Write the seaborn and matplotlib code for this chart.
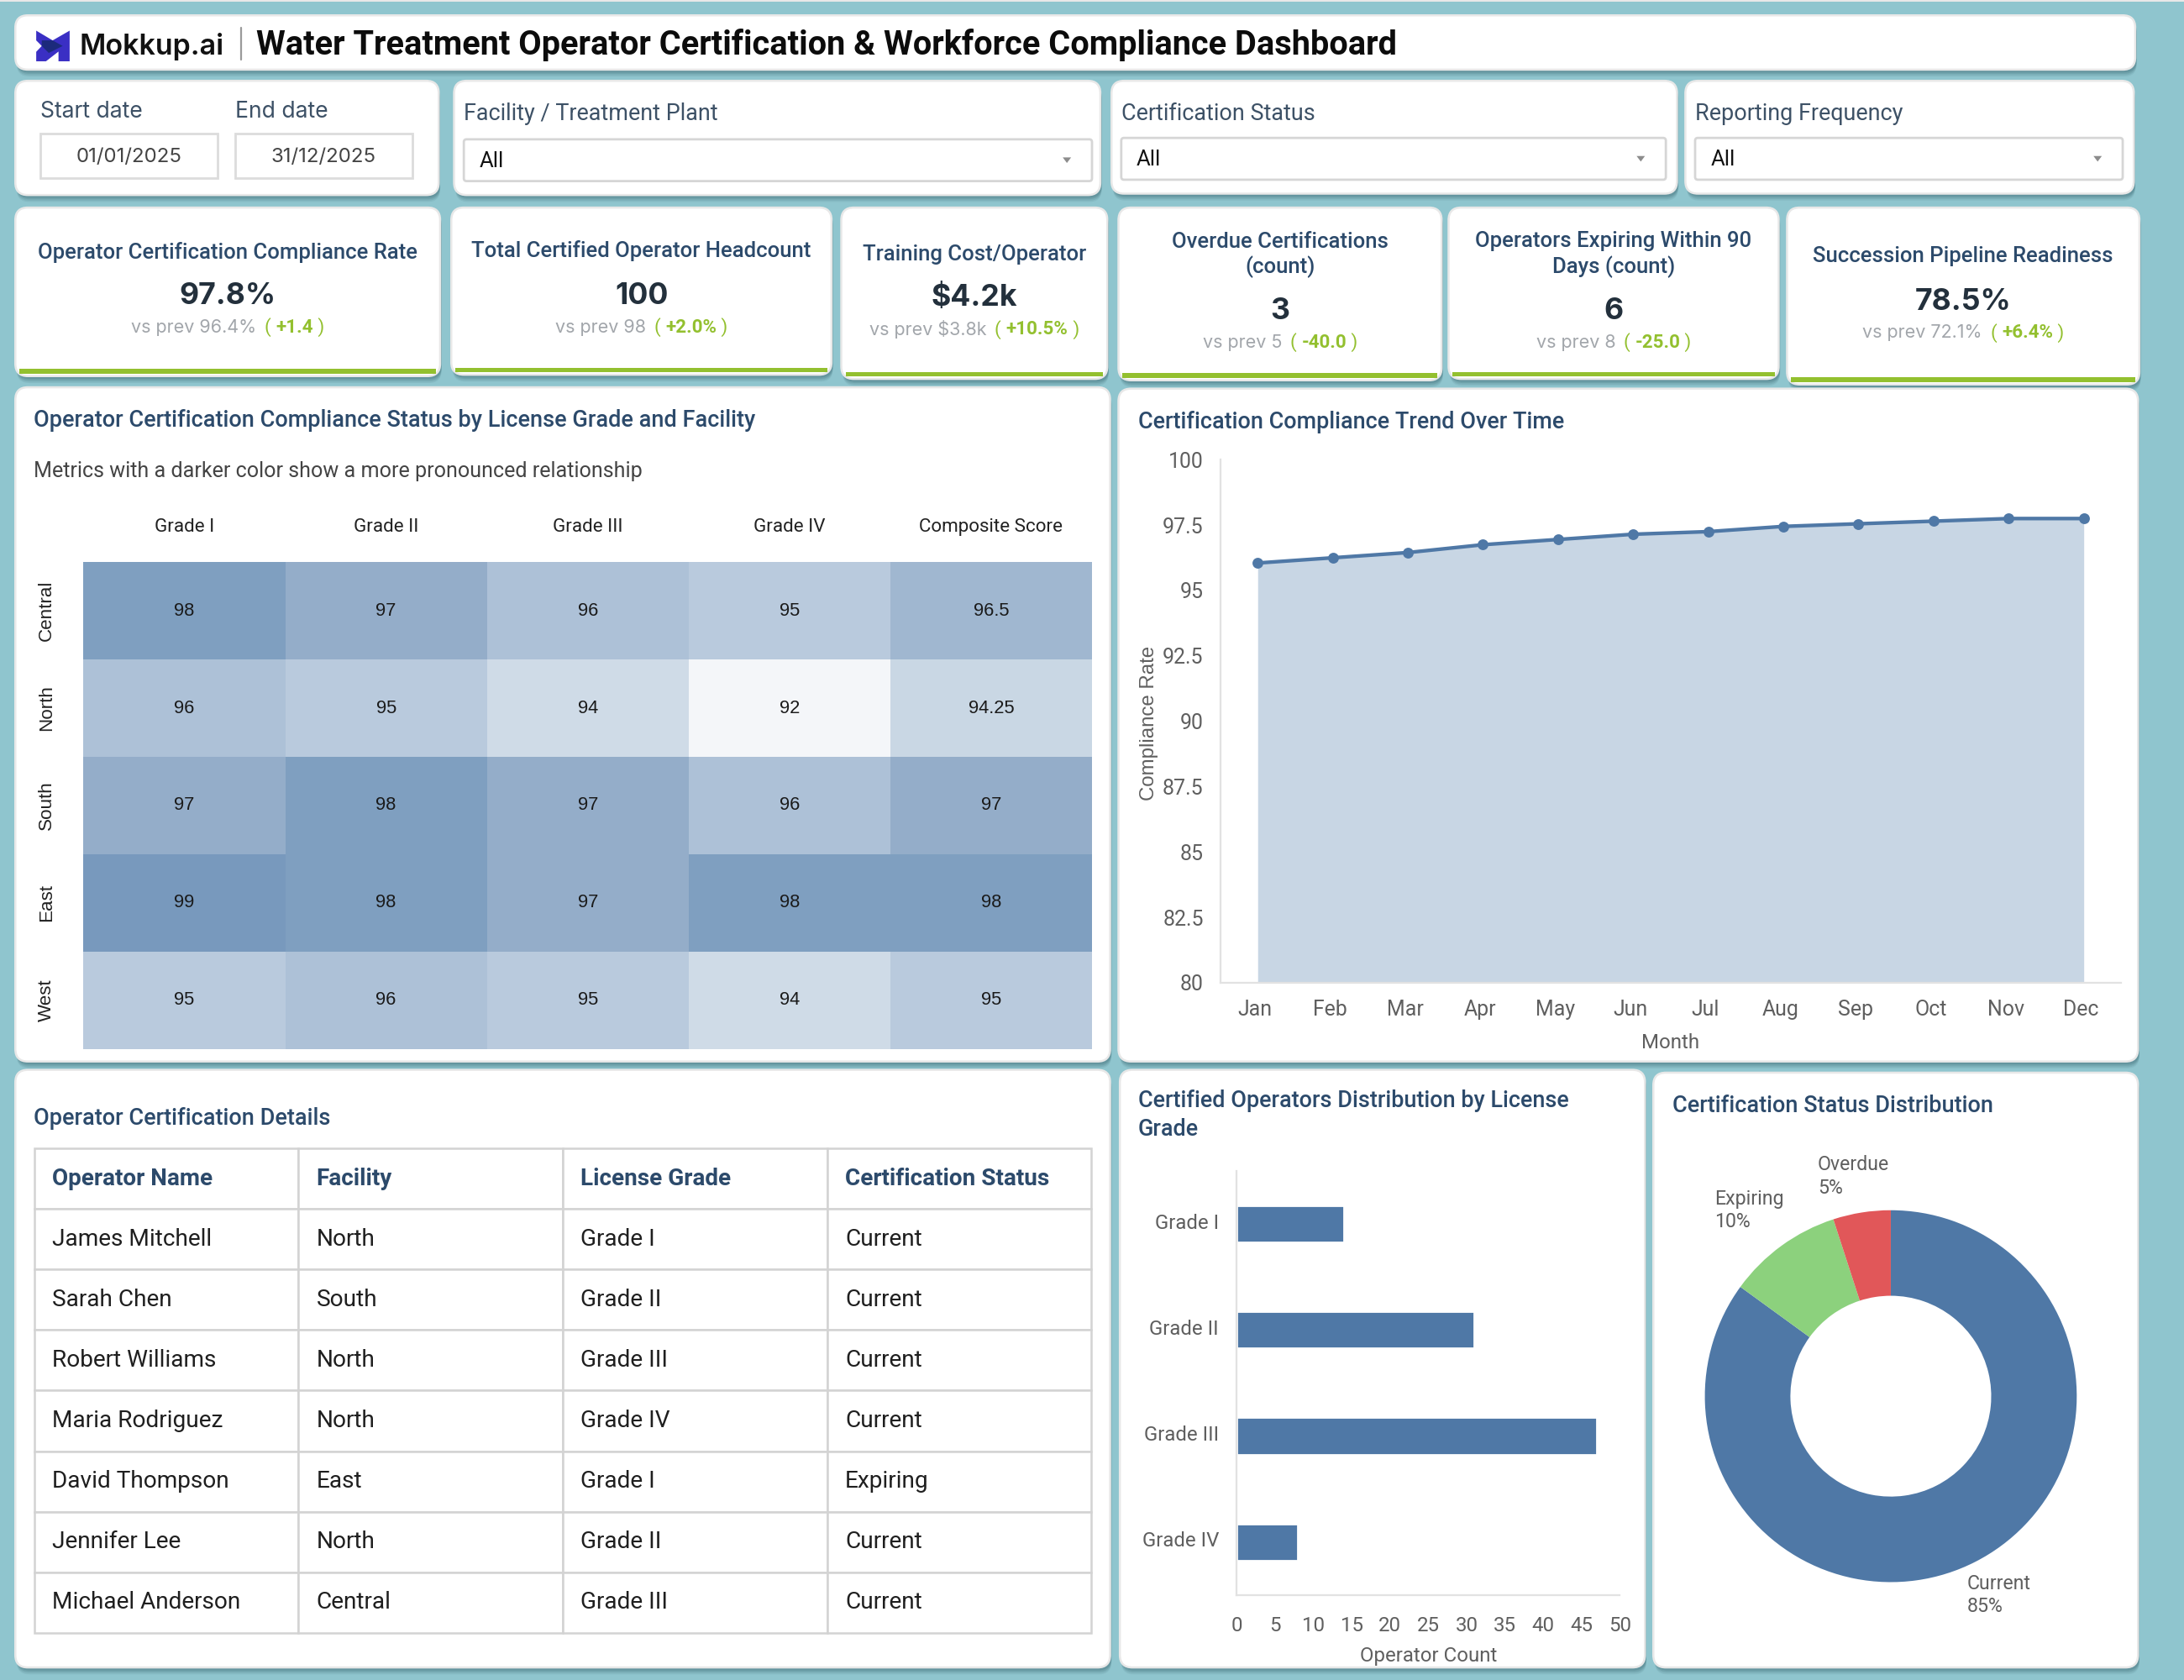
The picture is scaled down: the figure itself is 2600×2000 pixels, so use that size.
import matplotlib
matplotlib.use("Agg")
import matplotlib.pyplot as plt
from matplotlib.patches import FancyBboxPatch, Rectangle, Polygon
from matplotlib.colors import LinearSegmentedColormap
from matplotlib.transforms import ScaledTranslation
import numpy as np
import pandas as pd
import seaborn as sns

# ---- data ----
grades = ["Grade I", "Grade II", "Grade III", "Grade IV"]
heat_cols = ["Grade I", "Grade II", "Grade III", "Grade IV", "Composite Score"]
regions = ["Central", "North", "South", "East", "West"]
heat_central = [98, 97, 96, 95, 96.5]
heat_north = [96, 95, 94, 92, 94.25]
heat_south = [97, 98, 97, 96, 97]
heat_east = [99, 98, 97, 98, 98]
heat_west = [95, 96, 95, 94, 95]
heat_labels = [["98","97","96","95","96.5"],["96","95","94","92","94.25"],["97","98","97","96","97"],
               ["99","98","97","98","98"],["95","96","95","94","95"]]
months = ["Jan","Feb","Mar","Apr","May","Jun","Jul","Aug","Sep","Oct","Nov","Dec"]
trend = [96.05, 96.25, 96.45, 96.75, 96.95, 97.15, 97.25, 97.45, 97.55, 97.65, 97.75, 97.75]
trend_ticks = [80, 82.5, 85, 87.5, 90, 92.5, 95, 97.5, 100]
trend_tick_labels = ["80", "82.5", "85", "87.5", "90", "92.5", "95", "97.5", "100"]
grade_counts = [14, 31, 47, 8]
status_names = ["Current", "Expiring", "Overdue"]
status_values = [85, 10, 5]
table_cols = ["Operator Name", "Facility", "License Grade", "Certification Status"]
operators = ["James Mitchell","Sarah Chen","Robert Williams","Maria Rodriguez","David Thompson","Jennifer Lee","Michael Anderson"]
facilities = ["North","South","North","North","East","North","Central"]
op_grades = ["Grade I","Grade II","Grade III","Grade IV","Grade I","Grade II","Grade III"]
op_status = ["Current","Current","Current","Current","Expiring","Current","Current"]
kpi_titles = ["Operator Certification Compliance Rate","Total Certified Operator Headcount","Training Cost/Operator",
              "Overdue Certifications\n(count)","Operators Expiring Within 90\nDays (count)","Succession Pipeline Readiness"]
kpi_values = ["97.8%","100","$4.2k","3","6","78.5%"]
kpi_prev = ["vs prev 96.4%","vs prev 98","vs prev $3.8k","vs prev 5","vs prev 8","vs prev 72.1%"]
kpi_delta = ["+1.4","+2.0%","+10.5%","-40.0","-25.0","+6.4%"]

# ---- style ----
BG = "#8fc5ce"; NAVY = "#2c4a6b"; BLUE = "#4f78a6"; GREY = "#5f5f5f"; GREEN = "#93c02f"
sns.set_theme(style="white")
plt.rcParams["font.family"] = ["Roboto", "DejaVu Sans"]
W, H = 1568.0, 1206.0
fig = plt.figure(figsize=(13, 10), dpi=200, facecolor=BG)
bg = fig.add_axes([0, 0, 1, 1], zorder=0)
bg.set_xlim(0, W); bg.set_ylim(H, 0); bg.axis("off")
PT = (2600 / W) * 72 / 200   # size given as px in the 1568-wide view

def T(x, y, s, size, color="#222222", weight="normal", ha="left", va="center", family=None, **kw):
    return bg.text(x, y, s, fontsize=size * PT, color=color, fontweight=weight, ha=ha, va=va,
                   family=family or ["Roboto", "DejaVu Sans"], zorder=5, **kw)

def card(x0, y0, x1, y1, r=9):
    for d, a in ((5, .10), (4, .14), (3, .18), (2, .22)):
        bg.add_patch(FancyBboxPatch((x0 + r + 1, y0 + r + d), x1 - x0 - 2 * r, y1 - y0 - 2 * r,
                                    boxstyle=f"round,pad={r}", fc="#3d6b75", ec="none", alpha=a, zorder=1))
    bg.add_patch(FancyBboxPatch((x0 + r, y0 + r), x1 - x0 - 2 * r, y1 - y0 - 2 * r,
                                boxstyle=f"round,pad={r}", fc="white", ec="#e8e8e8", lw=0.9, zorder=2))

def axes_px(x0, y0, x1, y1):
    a = fig.add_axes([x0 / W, 1 - y1 / H, (x1 - x0) / W, (y1 - y0) / H], zorder=3)
    a.patch.set_alpha(0)
    return a

def shift(labels, dx, dy):
    off = ScaledTranslation(dx * PT / 72, dy * PT / 72, fig.dpi_scale_trans)
    for l in labels:
        l.set_transform(l.get_transform() + off)

def dropdown(x0, y0, x1, y1):
    bg.add_patch(FancyBboxPatch((x0 + 2, y0 + 2), x1 - x0 - 4, y1 - y0 - 4, boxstyle="round,pad=2",
                                fc="white", ec="#d6d6d6", lw=1.0, zorder=3))
    T(x0 + 11, (y0 + y1) / 2 + .5, "All", 15.5, "#111111")
    bg.add_patch(Polygon([(x1 - 21, (y0 + y1) / 2 - 2), (x1 - 15, (y0 + y1) / 2 - 2), (x1 - 18, (y0 + y1) / 2 + 2)],
                         fc="#8c8c8c", ec="none", zorder=5))

# ---- header ----
bg.add_patch(Rectangle((0, 0), W, 1.5, fc="#e8e8e8", ec="none", zorder=1))
card(11, 11, 1533, 50)
bg.add_patch(Polygon([(26, 22), (37.8, 29), (50, 22), (50, 44), (42, 44), (42, 37), (33, 44), (26, 44),
                      (26, 37.2), (30, 33), (26, 29)], fc="#3a2fc4", ec="none", zorder=5))
bg.add_patch(Polygon([(30, 29), (37.8, 29), (45, 33), (35, 38), (30, 33)], fc="#1c2a7c", ec="none", zorder=6))
T(57, 33.5, "Mokkup.ai", 20.5, "#111111", "semibold", family="Inter")
bg.plot([173, 173], [20, 43], color="#9a9a9a", lw=0.8, zorder=5)
T(184, 32, "Water Treatment Operator Certification & Workforce Compliance Dashboard", 24, "#0c0c0c", "bold")

# ---- filters ----
card(11, 58, 315, 140); card(326, 58, 790, 140); card(798, 58, 1204, 139); card(1210, 58, 1532, 139)
T(29, 80, "Start date", 16, "#3d5166", family="Inter"); T(169, 80, "End date", 16, "#3d5166", family="Inter")
for x0, s in ((29, "01/01/2025"), (169, "31/12/2025")):
    bg.add_patch(Rectangle((x0, 96), 127, 32, fc="white", ec="#dcdcdc", lw=1.0, zorder=3))
    T(x0 + 63.5, 113, s, 14.5, "#444444", ha="center", family="Inter")
T(333, 82, "Facility / Treatment Plant", 16.3, "#3d5166"); dropdown(333, 100, 784, 130)
T(805, 82, "Certification Status", 16.3, "#3d5166"); dropdown(805, 99, 1196, 129)
T(1217, 82, "Reporting Frequency", 16.3, "#3d5166"); dropdown(1217, 99, 1524, 129)

# ---- KPI cards ----
kpi_box = [(11, 149, 316, 270), (324, 149, 597, 269), (604, 149, 795, 272),
           (803, 149, 1035, 273), (1040, 149, 1277, 272), (1283, 149, 1536, 276)]
kpi_ty = [181, 180, 182.5, 183, 182.5, 184]
kpi_vy = [212.5, 212.5, 214, 223.5, 223.5, 216.5]
kpi_py = [235, 235, 236.5, 246, 246, 239]
for (x0, y0, x1, y1), t, v, p, d, ty, vy, py in zip(kpi_box, kpi_titles, kpi_values, kpi_prev, kpi_delta, kpi_ty, kpi_vy, kpi_py):
    card(x0, y0, x1, y1)
    bg.add_patch(Rectangle((x0 + 3, y1 - 5), x1 - x0 - 6, 3.2, fc=GREEN, ec="none", zorder=4))
    cx = (x0 + x1) / 2
    T(cx, ty, t, 15.5, NAVY, "medium", ha="center", linespacing=1.25)
    T(cx, vy, v, 21.5, "#23303c", "bold", ha="center", family="Inter")
    c = T(cx, py, p, 13, "#a2a6ab", ha="left", family="Inter")
    e = T(cx, py, "( ", 13.5, GREEN, ha="left")
    f = T(cx, py, d, 13.5, GREEN, "bold", ha="left")
    g = T(cx, py, " )", 13.5, GREEN, ha="left")
    fig.canvas.draw()
    rr = fig.canvas.get_renderer()
    widths = [q.get_window_extent(rr).width * W / 2600 for q in (c, e, f, g)]
    gap = 6
    total = sum(widths) + gap
    xx = cx - total / 2
    c.set_x(xx); xx += widths[0] + gap
    e.set_x(xx); xx += widths[1]
    f.set_x(xx); xx += widths[2]
    g.set_x(xx)

# ---- heatmap ----
card(11, 278, 797, 762)
T(24, 302, "Operator Certification Compliance Status by License Grade and Facility", 16.4, NAVY, "medium")
T(24, 338.5, "Metrics with a darker color show a more pronounced relationship", 15.2, "#444444")
heat = pd.DataFrame([heat_central, heat_north, heat_south, heat_east, heat_west], index=regions, columns=heat_cols)
cmap = LinearSegmentedColormap.from_list("h", [(0, "#f4f6f9"), (2 / 7, "#cfdbe7"), (3 / 7, "#b9cadd"), (4 / 7, "#adc1d7"),
                                              (5 / 7, "#94adc9"), (6 / 7, "#7f9fc0"), (1, "#7899bd")])
ax = axes_px(60, 403.5, 784, 753)
sns.heatmap(heat, ax=ax, cmap=cmap, vmin=92, vmax=99, cbar=False, annot=np.array(heat_labels), fmt="",
            annot_kws={"fontsize": 13.2 * PT, "color": "#1a1a1a", "family": "Liberation Sans"})
ax.xaxis.tick_top()
ax.set_xlabel(""); ax.set_ylabel("")
ax.tick_params(axis="x", length=0, pad=18.5 * PT, labelsize=13.5 * PT, labelcolor="#222222", rotation=0)
ax.tick_params(axis="y", length=0, pad=20 * PT, labelsize=13.5 * PT, labelcolor="#222222", rotation=90)
for l in ax.get_yticklabels():
    l.set_va("center")
    l.set_family(["Liberation Sans"])

# ---- trend ----
card(803, 279, 1535, 762)
T(817, 303, "Certification Compliance Trend Over Time", 16.3, NAVY, "medium")
ax = axes_px(876, 330, 1523, 705.5)
dft = pd.DataFrame({"Month": months, "Rate": trend})
ax.fill_between(range(12), trend, 80, color="#c8d6e4", lw=0)
sns.lineplot(data=dft, x="Month", y="Rate", ax=ax, color=BLUE, lw=2.6 * PT, marker="o",
             markersize=6.5 * PT, markeredgecolor=BLUE, sort=False, errorbar=None)
ax.set_xlim(-0.5, 11.5); ax.set_ylim(80, 100)
ax.set_yticks(trend_ticks); ax.set_yticklabels(trend_tick_labels)
ax.tick_params(axis="x", length=0, labelsize=15 * PT, labelcolor=GREY, pad=12 * PT)
ax.tick_params(axis="y", length=0, labelsize=15 * PT, labelcolor=GREY, pad=12 * PT)
shift(ax.get_xticklabels(), -2, 0)
ax.set_xlabel("Month", fontsize=14.5 * PT, color=GREY, labelpad=5.8)
ax.set_ylabel("")
T(825, 519, "Compliance Rate", 14.5, GREY, rotation=90, ha="center", family="Liberation Sans")
sns.despine(ax=ax)
for s in ("left", "bottom"):
    ax.spines[s].set_color("#e2e2e2"); ax.spines[s].set_linewidth(.8)

# ---- table ----
card(11, 768, 797, 1197)
T(24, 803, "Operator Certification Details", 16.4, NAVY, "medium")
ax = axes_px(24.5, 824.5, 783.5, 1172)
ax.axis("off")
rows = [list(r) for r in zip(operators, facilities, op_grades, op_status)]
tb = ax.table(cellText=rows, colLabels=table_cols, bbox=[0, 0, 1, 1], cellLoc="left", colLoc="left")
tb.auto_set_font_size(False)
for (r, c), cell in tb.get_celld().items():
    cell.set_edgecolor("#d3d3d3"); cell.set_linewidth(.9); cell.PAD = 0.068
    cell.set_text_props(fontsize=(16.8 if r == 0 else 16.9) * PT, color=NAVY if r == 0 else "#1f1f1f",
                        fontweight="bold" if r == 0 else "normal", family=["Roboto", "DejaVu Sans"])

# ---- bar ----
card(804, 768, 1181, 1197)
T(817, 800.5, "Certified Operators Distribution by License\nGrade", 16.3, NAVY, "medium", linespacing=1.3)
ax = axes_px(888, 840.5, 1163, 1145)
sns.barplot(x=grade_counts, y=grades, ax=ax, color=BLUE, width=.35, saturation=1)
ax.set_xlim(0, 50)
ax.set_xticks(range(0, 51, 5))
ax.tick_params(axis="y", length=0, labelsize=14.5 * PT, labelcolor=GREY, pad=13 * PT)
ax.tick_params(axis="x", length=0, labelsize=14.5 * PT, labelcolor=GREY, pad=15 * PT)
shift(ax.get_yticklabels(), 0, 2)
ax.set_xlabel("Operator Count", fontsize=14.5 * PT, color=GREY, labelpad=4.7)
sns.despine(ax=ax)
for s in ("left", "bottom"):
    ax.spines[s].set_color("#e2e2e2"); ax.spines[s].set_linewidth(.8)

# ---- donut ----
card(1187, 770, 1535, 1197)
T(1201, 794, "Certification Status Distribution", 16.4, NAVY, "medium")
ax = axes_px(1224, 868.5, 1491, 1136)
ax.pie(status_values, colors=[BLUE, "#8cd17d", "#e15759"], startangle=90, counterclock=False,
       radius=1, wedgeprops={"width": .46, "lw": 0})
ax.set_xlim(-1, 1); ax.set_ylim(-1, 1)
T(1412, 1145, "Current\n85%", 14, GREY, linespacing=1.25)
T(1231, 869, "Expiring\n10%", 14, GREY, linespacing=1.25)
T(1305, 844.5, "Overdue\n5%", 14, GREY, linespacing=1.25)

fig.savefig("out.png", dpi=200, facecolor=BG)
